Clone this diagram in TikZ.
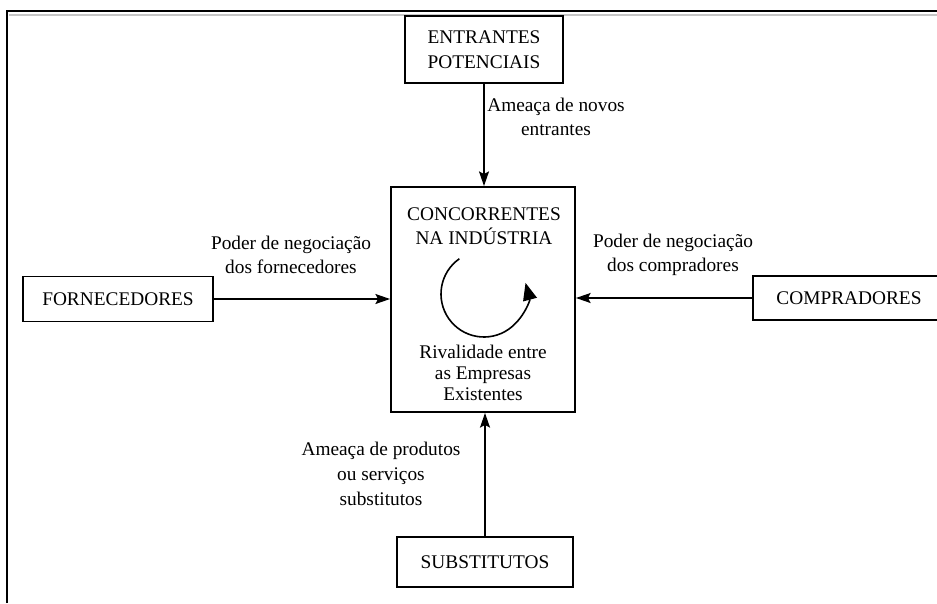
\documentclass[tikz,border=0pt]{standalone}
\usepackage{fontspec}
\setmainfont{Liberation Serif}
\usetikzlibrary{arrows.meta}

\tikzset{
  caixa/.style={draw,line width=1.4pt,inner sep=0pt,align=center},
  rotulo/.style={align=center},
  seta/.style={line width=1.1pt,-{Stealth[length=11pt,width=7.5pt,inset=2pt]}},
}

\begin{document}
\begin{tikzpicture}[x=0.75pt,y=-0.75pt,font=\fontsize{14.5}{18.5}\selectfont]
    \clip (0,0) rectangle (937,603);
    % moldura
    \draw[line width=1.5pt] (7,603) -- (7,11) -- (937,11);
    \draw[gray!45,line width=0.8pt] (9,15) -- (937,15);
    % caixas
    \node[caixa,minimum width=118.5pt,minimum height=50.25pt] (entr) at (484,49.5) {ENTRANTES\\POTENCIAIS};
    \node[caixa,minimum width=138pt,minimum height=168.75pt] (conc) at (483,299.5) {};
    \node[caixa,minimum width=142.5pt,minimum height=33.75pt] (forn) at (118,299) {FORNECEDORES};
    \node[caixa,minimum width=144pt,minimum height=33pt] (comp) at (849,298) {COMPRADORES};
    \node[caixa,minimum width=132pt,minimum height=37.5pt] (subs) at (485,562) {SUBSTITUTOS};
    % textos da caixa central
    \node[rotulo,font=\fontsize{14.5}{18}\selectfont] (concti) at (484,226) {CONCORRENTES\\NA INDÚSTRIA};
    \node[rotulo,font=\fontsize{14.5}{15.5}\selectfont] (rival) at (483,373) {Rivalidade entre\\as Empresas\\Existentes};
    \coordinate (giro) at (484,294);
    \draw[line width=1.2pt,-{Triangle[length=13pt,width=10.5pt]}]
      ([shift={(125:32.25pt)}]giro) arc[start angle=125,end angle=375,radius=32.25pt];
    % setas
    \draw[seta] (entr.south) -- (entr.south |- conc.north);
    \draw[seta] (forn.east) -- (forn.east -| conc.west);
    \draw[seta] (comp.west) -- (comp.west -| conc.east);
    \draw[seta] (subs.north) -- (subs.north |- conc.south);
    % rotulos
    \node[rotulo] (lnovos) at (556,117) {Ameaça de novos\\entrantes};
    \node[rotulo] (lforn) at (291,255) {Poder de negociação\\dos fornecedores};
    \node[rotulo] (lcomp) at (673,255) {Poder de negociação\\dos compradores};
    \node[rotulo] (lsubs) at (381,474) {Ameaça de produtos\\ou serviços\\substitutos};
\end{tikzpicture}
\end{document}
